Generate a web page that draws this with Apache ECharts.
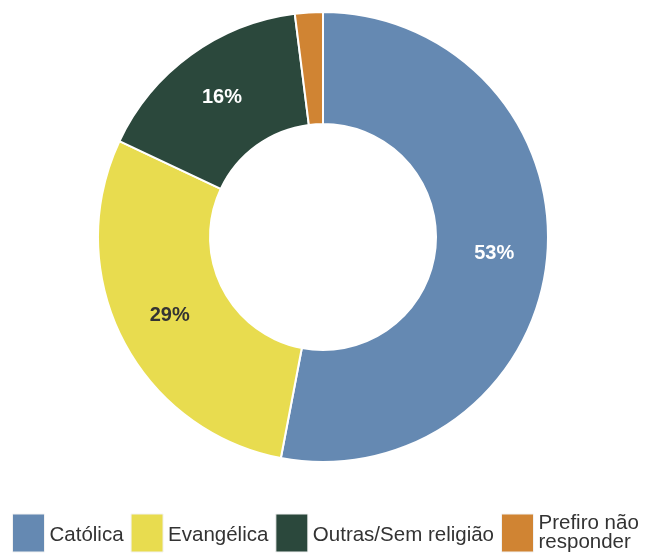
<!DOCTYPE html>
<html>
<head>
<meta charset="utf-8">
<script src="https://cdn.jsdelivr.net/npm/echarts@6/dist/echarts.min.js"></script>
<style>
  html, body { margin: 0; padding: 0; background: #fff; }
  #chart { width: 646px; height: 558px; }
</style>
</head>
<body>
<div id="chart"></div>
<script>
  const categories = ['Católica', 'Evangélica', 'Outras/Sem religião', 'Prefiro não\nresponder']
  const values = [53, 29, 16, 2]
  const colors = ['#6589b2', '#e8dc4f', '#2b483c', '#d08433']
  const labelColors = ['#ffffff', '#333333', '#ffffff', '#ffffff']

  const chart = echarts.init(document.getElementById('chart'))
  const option = {
    animation: false,
    color: colors,
    textStyle: { fontFamily: '"Liberation Sans", Arial, sans-serif' },
    legend: {
      left: 12,
      top: 513,
      padding: 0,
      itemWidth: 32,
      itemHeight: 38,
      itemGap: 7,
      icon: 'rect',
      itemStyle: { borderColor: '#f2f2f2', borderWidth: 1 },
      textStyle: {
        fontSize: 20.5,
        color: '#333',
        lineHeight: 19,
        rich: {
          a: { fontSize: 20.5, color: '#333', lineHeight: 19, padding: [5, 0, 0, 0] },
          b: { fontSize: 20.5, color: '#333', lineHeight: 19 }
        }
      },
      // linhas simples descem um pouco, como no original
      formatter: name => name.indexOf('\n') >= 0
        ? name.split('\n').map(s => '{b|' + s + '}').join('\n')
        : '{a|' + name + '}',
      data: categories
    },
    series: [{
      type: 'pie',
      center: [323, 237],
      radius: [113, 225],
      startAngle: 90,
      clockwise: true,
      itemStyle: { borderColor: '#fff', borderWidth: 2 },
      label: {
        position: 'inside',
        fontSize: 20,
        fontWeight: 'bold',
        formatter: p => p.value >= 5 ? p.value + '%' : ''
      },
      labelLine: { show: false },
      data: categories.map((name, i) => ({
        name: name,
        value: values[i],
        label: { color: labelColors[i] }
      }))
    }]
  }
  chart.setOption(option)
</script>
</body>
</html>
